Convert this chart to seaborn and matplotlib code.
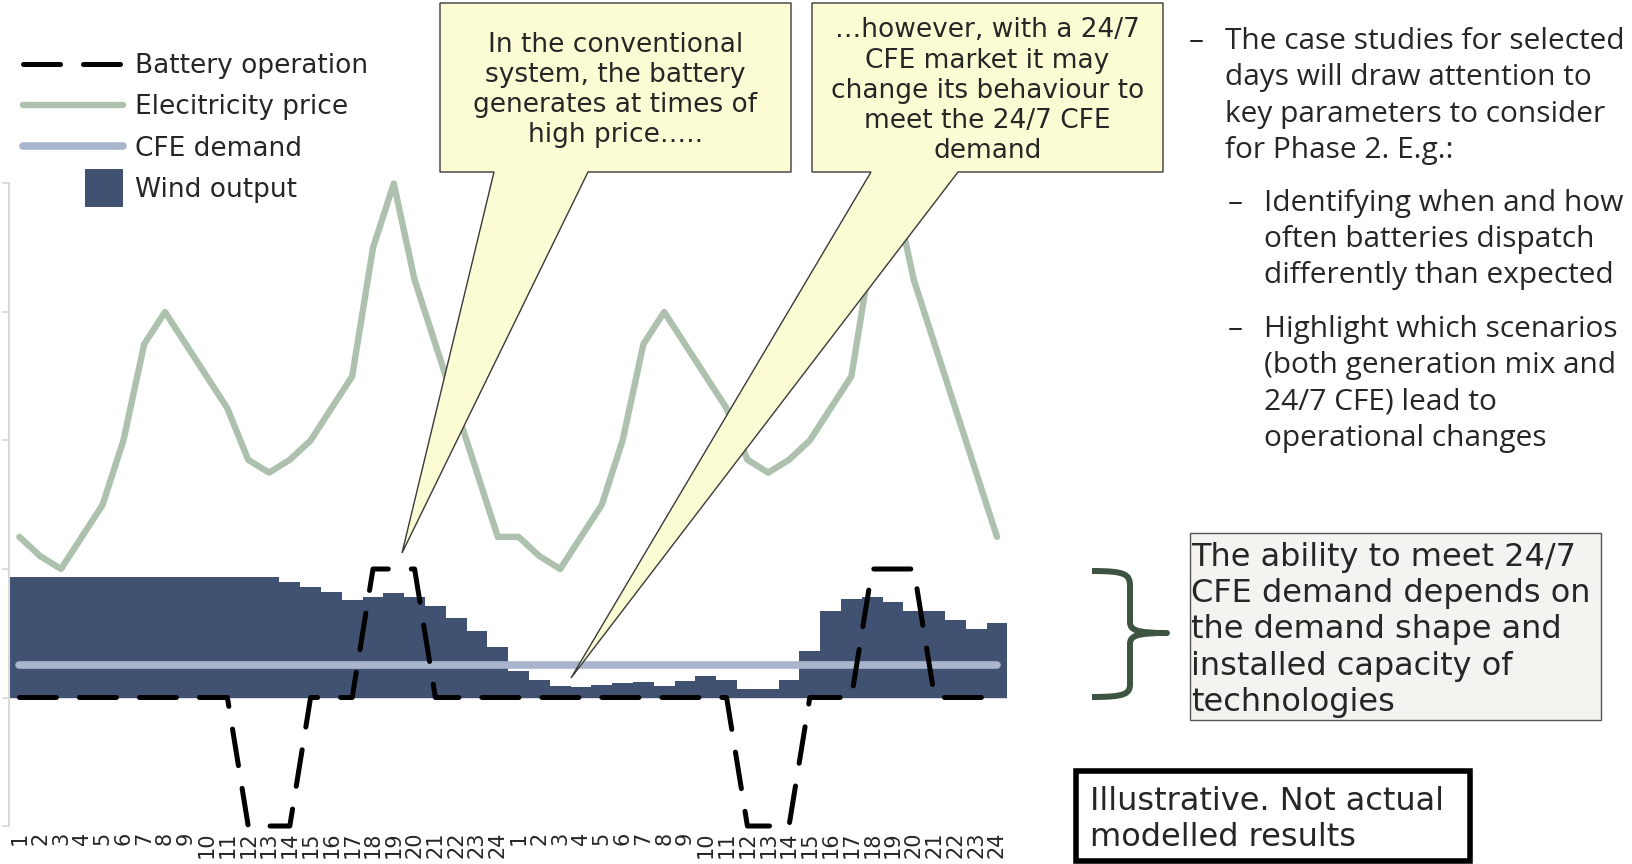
import numpy as np
import pandas as pd
import seaborn as sns
import matplotlib.pyplot as plt
from matplotlib.patches import Polygon, Rectangle, PathPatch
from matplotlib.path import Path
from matplotlib.lines import Line2D
from matplotlib.legend_handler import HandlerPatch

# --- data (two identical days of 24 hours) ---
hour_labels = ['1', '2', '3', '4', '5', '6', '7', '8', '9', '10', '11', '12',
               '13', '14', '15', '16', '17', '18', '19', '20', '21', '22', '23', '24']
wind_day1 = [0.94, 0.94, 0.94, 0.94, 0.94, 0.94, 0.94, 0.94, 0.94, 0.94, 0.94, 0.94,
             0.94, 0.90, 0.86, 0.82, 0.76, 0.78, 0.81, 0.78, 0.71, 0.62, 0.52, 0.39]
wind_day2 = [0.21, 0.135, 0.09, 0.08, 0.10, 0.11, 0.12, 0.09, 0.13, 0.17, 0.135, 0.07,
             0.07, 0.14, 0.36, 0.67, 0.77, 0.78, 0.74, 0.67, 0.67, 0.60, 0.53, 0.58]
price_day1 = [1.25, 1.1, 1.0, 1.25, 1.5, 2.0, 2.75, 3.0, 2.75, 2.5, 2.25, 1.85,
              1.75, 1.85, 2.0, 2.25, 2.5, 3.5, 4.0, 3.25, 2.75, 2.25, 1.75, 1.25]
price_day2 = [1.25, 1.1, 1.0, 1.25, 1.5, 2.0, 2.75, 3.0, 2.75, 2.5, 2.25, 1.85,
              1.75, 1.85, 2.0, 2.25, 2.5, 3.5, 4.0, 3.25, 2.75, 2.25, 1.75, 1.25]
battery_day1 = [0, 0, 0, 0, 0, 0, 0, 0, 0, 0, 0, -1, -1, -1, 0, 0, 0, 1, 1, 1, 0, 0, 0, 0]
battery_day2 = [0, 0, 0, 0, 0, 0, 0, 0, 0, 0, 0, -1, -1, -1, 0, 0, 0, 1, 1, 1, 0, 0, 0, 0]
cfe_day1 = [0.25, 0.25, 0.25, 0.25, 0.25, 0.25, 0.25, 0.25, 0.25, 0.25, 0.25, 0.25,
            0.25, 0.25, 0.25, 0.25, 0.25, 0.25, 0.25, 0.25, 0.25, 0.25, 0.25, 0.25]
cfe_day2 = [0.25, 0.25, 0.25, 0.25, 0.25, 0.25, 0.25, 0.25, 0.25, 0.25, 0.25, 0.25,
            0.25, 0.25, 0.25, 0.25, 0.25, 0.25, 0.25, 0.25, 0.25, 0.25, 0.25, 0.25]

series_names = ['Battery operation', 'Elecitricity price', 'CFE demand', 'Wind output']

note1_lines = ['In the conventional', 'system, the battery', 'generates at times of', 'high price…..']
note2_lines = ['…however, with a 24/7', 'CFE market it may', 'change its behaviour to',
               'meet the 24/7 CFE', 'demand']
bullet_lines = ['The case studies for selected', 'days will draw attention to',
                'key parameters to consider', 'for Phase 2. E.g.:']
sub1_lines = ['Identifying when and how', 'often batteries dispatch', 'differently than expected']
sub2_lines = ['Highlight which scenarios', '(both generation mix and', '24/7 CFE) lead to',
              'operational changes']
box_lines = ['The ability to meet 24/7', 'CFE demand depends on', 'the demand shape and',
             'installed capacity of', 'technologies']
illus_lines = ['Illustrative. Not actual', 'modelled results']

WIND = '#405172'
PRICE = '#ADC1AE'
CFE = '#A9B5CD'
NOTE_FILL = '#FBFCD4'

df = pd.DataFrame({
    'slot': np.arange(48),
    'wind': wind_day1 + wind_day2,
    'price': price_day1 + price_day2,
    'battery': battery_day1 + battery_day2,
    'cfe': cfe_day1 + cfe_day2,
})

sns.set_theme(style='white')
plt.rcParams['font.family'] = ['DejaVu Sans']

W, H = 1632, 864
fig = plt.figure(figsize=(W / 100, H / 100), dpi=100)
ax = fig.add_axes([9 / W, 1 - 826 / H, 998.4 / W, 642.5 / H])

sns.barplot(data=df, x='slot', y='wind', color=WIND, saturation=1, width=1.0,
            linewidth=0, ax=ax, zorder=2)
ax.axhline(0, color='#D9D9D9', lw=1.5, zorder=1)
sns.lineplot(data=df, x='slot', y='cfe', color=CFE, lw=5.5, solid_capstyle='round',
             ax=ax, zorder=3)
sns.lineplot(data=df, x='slot', y='price', color=PRICE, lw=4.6, ax=ax, zorder=3,
             clip_on=False)
sns.lineplot(data=df, x='slot', y='battery', color='black', lw=3.6, ax=ax, zorder=4,
             clip_on=False)
batt_line = ax.lines[-1]
batt_line.set_dashes([7.4, 4.6])
batt_line.set_dash_capstyle('round')

ax.set_xlim(-0.5, 47.5)
ax.set_ylim(-1, 4)
ax.set_yticks([-1, 0, 1, 2, 3, 4])
ax.set_yticklabels([])
ax.set_xticks(range(48))
ax.set_xticklabels(hour_labels + hour_labels, rotation=90, fontsize=15)
ax.tick_params(axis='x', length=0, pad=4)
ax.tick_params(axis='y', length=5, width=1.2, color='#D9D9D9', direction='out', left=True)
ax.set_xlabel('')
ax.set_ylabel('')
for side in ['top', 'right', 'bottom']:
    ax.spines[side].set_visible(False)
ax.spines['left'].set_color('#D9D9D9')
ax.spines['left'].set_linewidth(1.5)
ax.patch.set_visible(False)

# legend
h_batt = Line2D([], [], color='black', lw=3.6, linestyle=(0, (7.4, 4.6)),
                dash_capstyle='round')
h_price = Line2D([], [], color=PRICE, lw=4.6, solid_capstyle='round')
h_cfe = Line2D([], [], color=CFE, lw=5.5, solid_capstyle='round')
h_wind = Rectangle((0, 0), 1, 1, facecolor=WIND, edgecolor='none')


def square_patch(legend, orig_handle, xdescent, ydescent, width, height, fontsize):
    s = 1.44 * fontsize
    return Rectangle((-xdescent + width - s, -ydescent + height / 2 - s / 2), s, s)


ax.legend([h_batt, h_price, h_cfe, h_wind], series_names, loc='upper left',
          bbox_to_anchor=(23 / W, 1 - 53 / H), bbox_transform=fig.transFigure,
          frameon=False, fontsize=19, handlelength=3.8, handletextpad=0.46,
          labelspacing=0.58, borderpad=0, borderaxespad=0,
          handler_map={h_wind: HandlerPatch(patch_func=square_patch)})

# annotation layer in pixel coordinates
ov = fig.add_axes([0, 0, 1, 1])
ov.set_xlim(0, W)
ov.set_ylim(H, 0)
ov.axis('off')
ov.patch.set_visible(False)

callout1 = [(440, 3), (791, 3), (791, 172), (588, 172), (402, 553), (494, 172), (440, 172)]
callout2 = [(812, 3), (1163, 3), (1163, 172), (958, 172), (571, 678), (871, 172), (812, 172)]
for pts in (callout1, callout2):
    ov.add_patch(Polygon(pts, closed=True, facecolor=NOTE_FILL, edgecolor='#3A3A3A',
                         lw=1, zorder=5))


def put_lines(lines, x, y0, step, **kw):
    for i, line in enumerate(lines):
        ov.text(x, y0 + i * step, line, va='center', zorder=6, **kw)


put_lines(note1_lines, 615.5, 45, 30, ha='center', fontsize=19)
put_lines(note2_lines, 987.5, 30.5, 30, ha='center', fontsize=19)

# bullets
bullet_font = dict(fontsize=21.5, family=['Open Sans', 'DejaVu Sans'], ha='left')
ov.text(1189, 41.5, '–', va='center', **bullet_font)
put_lines(bullet_lines, 1225, 41.5, 36.4, **bullet_font)
ov.text(1228, 203, '–', va='center', **bullet_font)
put_lines(sub1_lines, 1263.5, 203, 36.4, **bullet_font)
ov.text(1228, 329, '–', va='center', **bullet_font)
put_lines(sub2_lines, 1263.5, 329, 36.4, **bullet_font)

# bracket
brace = Path([(1092, 571), (1125, 571), (1130, 574), (1130, 586),
              (1130, 622),
              (1130, 630), (1136, 633), (1167, 633),
              (1136, 633), (1130, 636), (1130, 644),
              (1130, 684),
              (1130, 694), (1125, 697), (1092, 697)],
             [Path.MOVETO, Path.CURVE4, Path.CURVE4, Path.CURVE4,
              Path.LINETO,
              Path.CURVE4, Path.CURVE4, Path.CURVE4,
              Path.CURVE4, Path.CURVE4, Path.CURVE4,
              Path.LINETO,
              Path.CURVE4, Path.CURVE4, Path.CURVE4])
ov.add_patch(PathPatch(brace, facecolor='none', edgecolor='#3E5443', lw=4.3,
                       capstyle='butt', joinstyle='round'))

# grey box
ov.add_patch(Rectangle((1190, 533), 411, 187, facecolor='#F4F3EF', edgecolor='#555555', lw=1))
put_lines(box_lines, 1191, 557.5, 36.2, ha='left', fontsize=23)

# illustrative box
ov.add_patch(Rectangle((1076, 771), 394, 90, facecolor='white', edgecolor='black', lw=4))
put_lines(illus_lines, 1090, 801.5, 35.5, ha='left', fontsize=23)

fig.savefig('out.png', dpi=100)
